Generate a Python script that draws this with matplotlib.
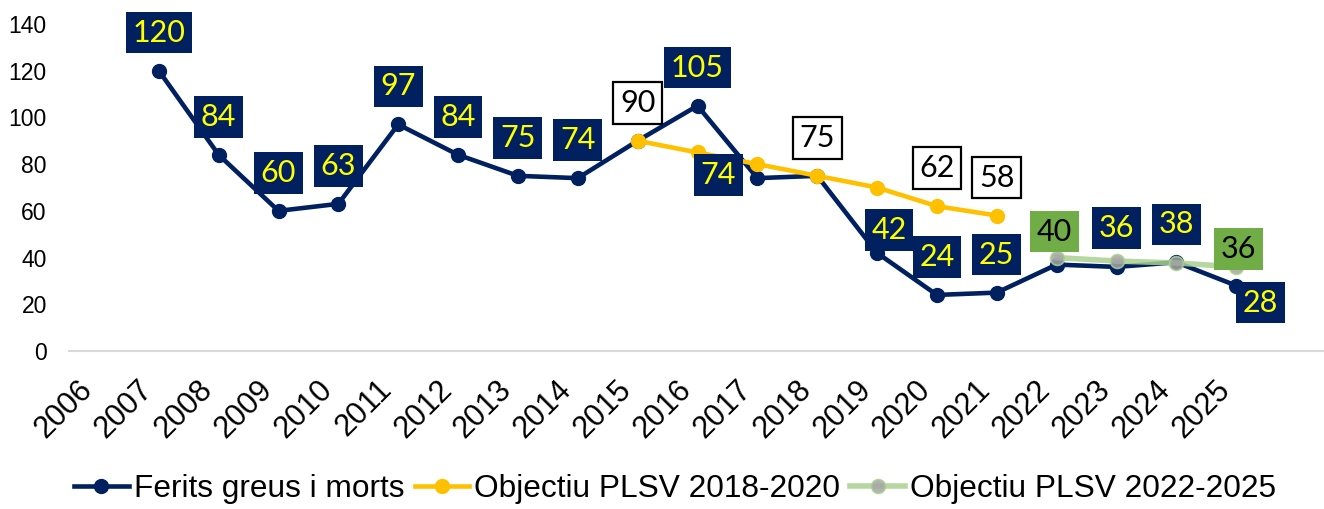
import numpy as np
import matplotlib
matplotlib.use("Agg")
import matplotlib.pyplot as plt
import matplotlib.transforms as mtransforms

# Data
years = ['2006', '2007', '2008', '2009', '2010', '2011', '2012', '2013', '2014', '2015',
         '2016', '2017', '2018', '2019', '2020', '2021', '2022', '2023', '2024', '2025']
ferits = [np.nan, 120, 84, 60, 63, 97, 84, 75, 74, 90,
          105, 74, 75, 42, 24, 25, 37, 36, 38, 28]
plsv_2020 = [np.nan] * 9 + [90, 85, 80, 75, 70, 62, 58] + [np.nan] * 4
plsv_2025 = [np.nan] * 16 + [40, 38.5, 37.7, 36]

# which points carry a value label, and where the box sits (pixel offset)
ferits_labels = {'2007': (0, 38), '2008': (0, 38), '2009': (0, 38), '2010': (0, 38),
                 '2011': (0, 38), '2012': (0, 38), '2013': (0, 38), '2014': (0, 38),
                 '2016': (0, 38), '2017': (-39, 3), '2019': (12, 23), '2020': (0, 38),
                 '2021': (0, 38), '2023': (0, 39), '2024': (0, 38), '2025': (24, -17)}
plsv_2020_labels = {'2015': (0, 38), '2018': (0, 38), '2020': (0, 38), '2021': (0, 38)}
plsv_2025_labels = {'2022': (-2, 26), '2025': (2, 18)}

NAVY = '#002060'
GOLD = '#FFC000'
LIGHT_GREEN = '#A9D18E'
BOX_GREEN = '#70AD47'
GREY = '#A5A5A5'

fig = plt.figure(figsize=(13.24, 5.09), dpi=100)
ax = fig.add_axes([69 / 1324, 158 / 509, 1257 / 1324, 327 / 509])

x = np.arange(len(years))
ax.plot(x, ferits, color=NAVY, lw=3.3, marker='o', ms=10, zorder=2,
        label='Ferits greus i morts')
ax.plot(x, plsv_2020, color=GOLD, lw=3.3, marker='o', ms=10, zorder=3,
        label='Objectiu PLSV 2018-2020')
ax.plot(x, plsv_2025, color=LIGHT_GREEN, lw=4, marker='o', ms=10, alpha=0.85,
        mfc=GREY, mec=LIGHT_GREEN, mew=1.2, zorder=4,
        label='Objectiu PLSV 2022-2025')


def add_labels(values, positions, fc, ec, tc, lw):
    for yr, (dx, dy) in positions.items():
        i = years.index(yr)
        v = values[i]
        ax.annotate(f'{v:.0f}', xy=(i, v), xytext=(dx, dy), textcoords='offset pixels',
                    ha='center', va='center', fontsize=22, family='Lato', color=tc,
                    zorder=6,
                    bbox=dict(boxstyle='square,pad=0.22', fc=fc, ec=ec, lw=lw))


add_labels(ferits, ferits_labels, NAVY, NAVY, '#FFFF00', 0)
add_labels(plsv_2020, plsv_2020_labels, 'white', 'black', 'black', 1.6)
add_labels(plsv_2025, plsv_2025_labels, BOX_GREEN, BOX_GREEN, 'black', 0)

ax.set_xlim(-0.5, 20.5)
ax.set_ylim(0, 140)
ax.set_yticks(range(0, 141, 20))
ax.set_xticks(x)
ax.set_xticklabels(years, rotation=45, ha='right', fontsize=22, family='Liberation Sans')
shift = mtransforms.ScaledTranslation(6 / 100, 0, fig.dpi_scale_trans)
for lab in ax.get_xticklabels():
    lab.set_transform(lab.get_transform() + shift)
for lab in ax.get_yticklabels():
    lab.set_fontsize(16.5)
    lab.set_family('Liberation Sans')

ax.tick_params(axis='both', length=0)
ax.tick_params(axis='x', pad=17)
ax.tick_params(axis='y', pad=16)
for side in ['left', 'right', 'top']:
    ax.spines[side].set_visible(False)
ax.spines['bottom'].set_color('#D9D9D9')
ax.spines['bottom'].set_linewidth(1.5)

fig.legend(loc='center', bbox_to_anchor=(0.51, 20 / 509), ncol=3, frameon=False,
           prop={'family': 'Liberation Sans', 'size': 22.8},
           handlelength=1.73, handletextpad=0.16, columnspacing=0.32,
           borderaxespad=0, borderpad=0)

fig.savefig('out.png', dpi=100)
